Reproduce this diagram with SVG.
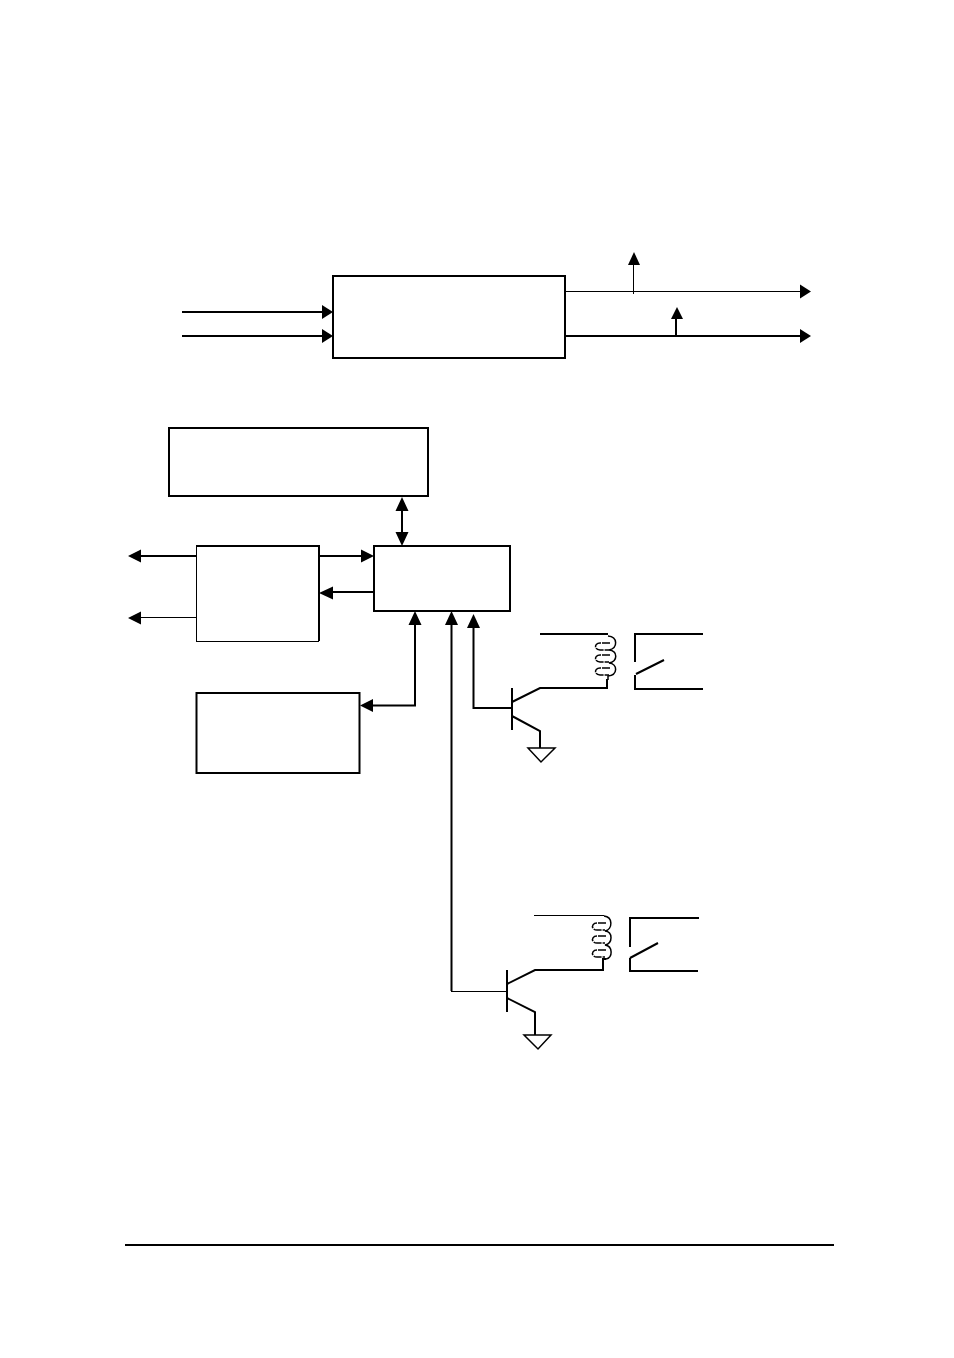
<svg xmlns="http://www.w3.org/2000/svg" width="954" height="1358" viewBox="0 0 954 1358">
<style>
rect{fill:#fff;stroke:#000;stroke-width:2}
path,line{fill:none;stroke:#000;stroke-width:2}
.t{stroke-width:1;shape-rendering:crispEdges}
.c{stroke-width:1.500}
.h{fill:#000;stroke:none}
</style>
<rect width="954" height="1358" style="stroke:none"/>
<g id="node-top"><rect x="333" y="276" width="232" height="82"/></g>
<g id="node-upper"><rect x="169" y="428" width="259" height="68"/></g>
<g id="node-left">
<rect x="196.500" y="546" width="122.500" height="95.500" style="stroke:none"/>
<path d="M196 546H319V641" />
<path class="t" d="M196.500 546V641.500H319"/>
</g>
<g id="node-center"><rect x="374" y="546" width="136" height="65"/></g>
<g id="node-lower"><rect x="196.500" y="693" width="163" height="80"/></g>
<g id="connectors">
<line x1="182" y1="312" x2="324" y2="312"/><path class="h" d="M333 312l-11-7v14z"/>
<line x1="182" y1="336" x2="324" y2="336"/><path class="h" d="M333 336l-11-7v14z"/>
<line class="t" x1="566" y1="291.500" x2="802" y2="291.500"/><path class="h" d="M811 291.500l-11-7v14z"/>
<line x1="566" y1="336" x2="802" y2="336"/><path class="h" d="M811 336l-11-7v14z"/>
<line class="t" x1="633.500" y1="262" x2="633.500" y2="294"/><path class="h" d="M634 252l-6 13h12z"/>
<line x1="676" y1="316" x2="676" y2="336"/><path class="h" d="M677 307l-6 12h12z"/>
<line x1="402" y1="505" x2="402" y2="538"/><path class="h" d="M402 497l-6.500 14h13zM402 546l-6.500-14h13z"/>
<line x1="138" y1="556" x2="196" y2="556"/><path class="h" d="M128 556l13-6.500v13z"/>
<line class="t" x1="138" y1="617.500" x2="196" y2="617.500"/><path class="h" d="M128 618l13-6.500v13z"/>
<line x1="319" y1="556" x2="364" y2="556"/><path class="h" d="M374 556l-13-6.500v13z"/>
<line x1="330" y1="592" x2="374" y2="592"/><path class="h" d="M319 593l14-6.500v13z"/>
<path d="M415 622V705.500H370"/><path class="h" d="M415 611l-6.500 14h13zM360 705.500l13-6.500v13z"/>
<path d="M451.500 622V991"/><path class="h" d="M451.500 611l-6.500 14h13z"/>
<path d="M473.500 625V708H512"/><path class="h" d="M473.500 614l-6.500 14h13z"/>
<path class="t" d="M451 991.500H507"/>
</g>
<g id="relay-1">
<path d="M512 688V730M512 702L540 688H607V679M512 716L540 731V748M540 634H608"/>
<path d="M528 748H555L541 762Z" class="c"/>
<path class="c" d="M608 636C618 637 618 648 609 650C618 651 618 661 609 663C618 664 618 675 608 676V680"/>
<path class="c" d="M610 643H600C594 643 594 650 600 650H609M610 655H600C594 655 594 662 600 662H609M610 668H600C594 668 594 675 600 675H609" stroke-dasharray="8 1"/>
<path d="M635 662V634H703M635 675V689H703M636 674L664 660"/>
</g>
<g id="relay-2">
<path d="M507 970V1012M507 984L535 970H603V959H606M507 998L535 1012V1035"/>
<path class="t" d="M534 915.500H604"/>
<path d="M524 1035H551L538 1049Z" class="c"/>
<path class="c" d="M604 916C613 917 613 929 605 931C613 932 613 943 605 945C613 946 613 958 606 959"/>
<path class="c" d="M606 923H597C591 923 591 930 597 930H605M606 936H597C591 936 591 943 597 943H605M606 950H597C591 950 591 957 597 957H605" stroke-dasharray="8 1"/>
<path d="M630 947V918H699M630 958V971H698M630 958L658 943"/>
</g>
<line x1="125" y1="1245" x2="834" y2="1245"/>
</svg>
